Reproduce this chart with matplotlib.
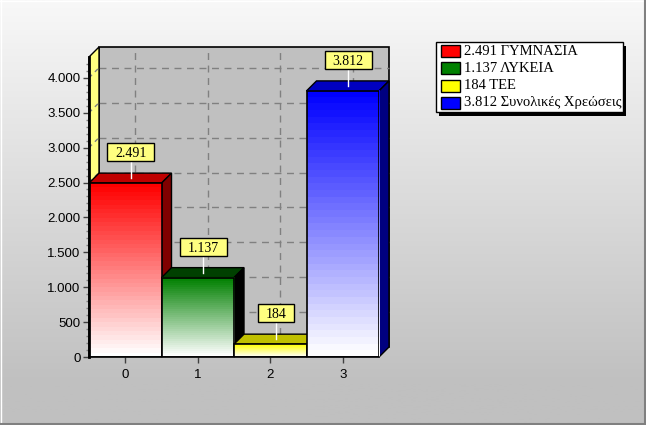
import numpy as np
import matplotlib
matplotlib.use("Agg")
import matplotlib.pyplot as plt
from matplotlib.colors import LinearSegmentedColormap
from matplotlib.patches import Polygon, Rectangle
from matplotlib.transforms import ScaledTranslation

W, H = 646, 425
categories = ["0", "1", "2", "3"]
values = [2491, 1137, 184, 3812]
face_colors = ["#ff0000", "#008000", "#ffff00", "#0000ff"]
top_colors = ["#c00000", "#004000", "#c0c000", "#0000c0"]
side_colors = ["#800000", "#000000", "#808000", "#000080"]
bar_labels = ["2.491", "1.137", "184", "3.812"]
legend_labels = ["2.491 ΓΥΜΝΑΣΙΑ", "1.137 ΛΥΚΕΙΑ", "184 TEE", "3.812 Συνολικές Χρεώσεις"]
y_ticks = [0, 500, 1000, 1500, 2000, 2500, 3000, 3500, 4000]
y_tick_labels = ["0", "500", "1.000", "1.500", "2.000", "2.500", "3.000", "3.500", "4.000"]

DEPTH = 10  # 3d depth in pixels
serif = "Liberation Serif"
sans = "Liberation Sans"


def px_box(x0, y0, x1, y1):
    return [x0 / W, 1 - y1 / H, (x1 - x0) / W, (y1 - y0) / H]


fig = plt.figure(figsize=(W / 100, H / 100), dpi=100)

# background gradient, flat grey at the bottom
bg = fig.add_axes([0, 0, 1, 1], zorder=0)
grad = np.clip(np.linspace(0, 1.104, 256), 0, 1).reshape(-1, 1)
bg.imshow(grad, aspect="auto", extent=[0, W, H, 0],
          cmap=LinearSegmentedColormap.from_list("bg", ["#f8f8f8", "#c0c0c0"]))
bg.set_xlim(0, W)
bg.set_ylim(H, 0)
bg.axis("off")
# raised window border
bg.plot([0.5, 0.5], [0, H], color="#ffffff", lw=1)
bg.plot([0, W], [0.5, 0.5], color="#ffffff", lw=1)
bg.plot([W - 1, W - 1], [0, H], color="#808080", lw=1.5)
bg.plot([0, W], [H - 1, H - 1], color="#808080", lw=1.5)

ax = fig.add_axes(px_box(89, 57, 379, 357), zorder=1)
ax.set_xlim(-0.5, 3.5)
ax.set_ylim(0, 4298)
ax.patch.set_visible(False)
for s in ax.spines.values():
    s.set_visible(False)
ax.spines["bottom"].set_visible(True)
ax.spines["bottom"].set_linewidth(1.2)
ax.spines["bottom"].set_zorder(20)
ax.spines["left"].set_visible(True)
ax.spines["left"].set_linewidth(2)
ax.spines["left"].set_zorder(20)

back = ax.transData + ScaledTranslation(DEPTH / 100, DEPTH / 100, fig.dpi_scale_trans)
ymax = ax.get_ylim()[1]

# pixels to data units
x_unit = 4 / 290
y_unit = ymax / 300
d_x = DEPTH * x_unit
d_y = DEPTH * y_unit

# back wall + grid
ax.add_patch(Rectangle((-0.5, 0), 4, ymax, transform=back, fc="#c0c0c0", ec="black",
                       lw=1.2, zorder=1, clip_on=False))
for t in y_ticks[1:]:
    ax.plot([-0.5, 3.5], [t, t], transform=back, color="#808080", lw=1,
            ls=(0, (5, 4)), zorder=2, clip_on=False)
for x in range(4):
    ax.plot([x, x], [0, ymax], transform=back, color="#808080", lw=1,
            ls=(0, (5, 4)), zorder=2, clip_on=False)

# left wall
ax.add_patch(Polygon([(-0.5, 0), (-0.5 + d_x, d_y), (-0.5 + d_x, ymax + d_y), (-0.5, ymax)],
                     fc="#ffff80", ec="black", lw=1, zorder=3, clip_on=False))
for t in y_ticks[1:]:
    ax.plot([-0.5, -0.5 + d_x], [t, t + d_y], color="#808080", lw=1,
            ls=(0, (3, 3)), zorder=4, clip_on=False)

# bars, later ones sit over the side of earlier ones
for i, v in enumerate(values):
    x0, x1 = i - 0.5, i + 0.5
    z = 5 + i
    cmap = LinearSegmentedColormap.from_list("b%d" % i, ["#ffffff", face_colors[i]])
    ax.add_patch(Polygon([(x0, v), (x0 + d_x, v + d_y), (x1 + d_x, v + d_y), (x1, v)],
                         fc=top_colors[i], ec="black", lw=1, zorder=z, clip_on=False))
    ax.add_patch(Polygon([(x1, 0), (x1 + d_x, d_y), (x1 + d_x, v + d_y), (x1, v)],
                         fc=side_colors[i], ec="black", lw=1, zorder=z, clip_on=False))
    ax.imshow(np.linspace(1, 0, 40).reshape(-1, 1), cmap=cmap, aspect="auto", vmin=0, vmax=1,
              extent=[x0, x1, 0, v], zorder=z + 0.1, interpolation="nearest")
    ax.add_patch(Rectangle((x0, 0), 1, v, fc="none", ec="black", lw=1.2, zorder=z + 0.2))

# value callouts
for i, v in enumerate(values):
    cx = i + 5.5 * x_unit
    box_w = (47 if len(bar_labels[i]) == 5 else 36) * x_unit
    box_h = 18 * y_unit
    box_y = v + 22 * y_unit
    ax.plot([cx, cx], [v + 5 * y_unit, box_y], color="white", lw=1, zorder=20, clip_on=False)
    ax.add_patch(Rectangle((cx - box_w / 2, box_y), box_w, box_h, fc="#ffff80", ec="black",
                           lw=1, zorder=21, clip_on=False))
    ax.text(cx, box_y + box_h / 2, bar_labels[i], ha="center", va="center_baseline",
            family=serif, fontsize=10, zorder=22, clip_on=False)

ax.set_xlim(-0.5, 3.5)
ax.set_ylim(0, ymax)

ax.set_xticks(range(len(categories)), categories, family=sans, fontsize=9.5)
ax.set_yticks(y_ticks, y_tick_labels, family=sans, fontsize=9.5)
ax.set_yticks(np.arange(0, 4300, 100), minor=True)
ax.tick_params(axis="y", which="major", length=4, width=1, color="#404040", pad=2)
ax.tick_params(axis="y", which="minor", length=2, width=1, color="#808080")
ax.tick_params(axis="x", length=4, width=1, color="#404040", pad=5)

# legend box with shadow
leg = fig.add_axes([0, 0, 1, 1], zorder=2)
leg.set_xlim(0, W)
leg.set_ylim(H, 0)
leg.axis("off")
leg.add_patch(Rectangle((439, 46), 187, 70, fc="black", ec="none"))
leg.add_patch(Rectangle((435.5, 41.5), 187, 70.5, fc="white", ec="black", lw=1))
for i, lab in enumerate(legend_labels):
    yy = 51 + i * 17.3
    leg.add_patch(Rectangle((440.5, yy - 6), 19, 12, fc=face_colors[i], ec="black", lw=1))
    leg.text(464, yy, lab, family=serif, fontsize=10.5, va="center", ha="left")

fig.savefig("out.png", dpi=100)
